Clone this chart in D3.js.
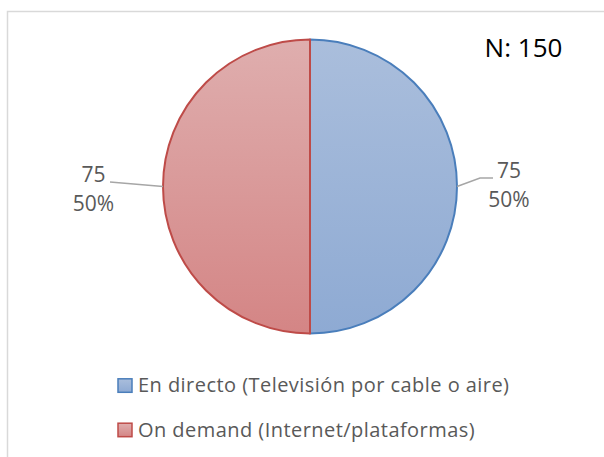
<!DOCTYPE html>
<html>
<head>
<meta charset="utf-8">
<script src="https://cdn.jsdelivr.net/npm/d3@7"></script>
<style>
  body { margin: 0; background: #fff; }
  svg { display: block; font-family: "Open Sans", "Liberation Sans", sans-serif; }
</style>
</head>
<body>
<div id="chart"></div>
<script>
// data
const categories = ["En directo (Televisión por cable o aire)", "On demand (Internet/plataformas)"];
const counts = [75, 75];
const percents = ["50%", "50%"];
const totalLabel = "N: 150";

const width = 604, height = 457;
const cx = 310, cy = 186.5, radius = 147;

const svg = d3.select("#chart").append("svg")
  .attr("width", width)
  .attr("height", height);

// gradients for the slices
const defs = svg.append("defs");
const fills = [
  { id: "gBlue", top: "#aabedc", bottom: "#8eaad3", stroke: "#4a7ebb" },
  { id: "gRed", top: "#dfaeae", bottom: "#d48585", stroke: "#be4b48" }
];
fills.forEach(f => {
  const g = defs.append("linearGradient").attr("id", f.id)
    .attr("x1", 0).attr("y1", 0).attr("x2", 0).attr("y2", 1);
  g.append("stop").attr("offset", "0%").attr("stop-color", f.top);
  g.append("stop").attr("offset", "100%").attr("stop-color", f.bottom);
});

// chart frame
svg.append("rect")
  .attr("x", 7.5).attr("y", 11.5)
  .attr("width", 620).attr("height", 470)
  .attr("fill", "none")
  .attr("stroke", "#d9d9d9")
  .attr("stroke-width", 1.5);

const pie = d3.pie().sort(null).value(d => d);
const arcs = pie(counts);
const arc = d3.arc().innerRadius(0).outerRadius(radius);

const plot = svg.append("g").attr("transform", `translate(${cx},${cy})`);

plot.selectAll("path.slice").data(arcs).enter()
  .append("path")
  .attr("class", "slice")
  .attr("d", arc)
  .attr("fill", (d, i) => `url(#${fills[i].id})`)
  .attr("stroke", (d, i) => fills[i].stroke)
  .attr("stroke-width", 2)
  .attr("stroke-linejoin", "round");

// leader lines + data labels
const labelPos = [
  { line: [[radius, 0], [170, -8.5], [183, -8.5]], x: 199, y1: -8.5, y2: 20.5 },
  { line: [[-radius, 0], [-200, -4.5]], x: -216.5, y1: -4.5, y2: 24.5 }
];
arcs.forEach((d, i) => {
  const mid = (d.startAngle + d.endAngle) / 2;
  const edge = [Math.sin(mid) * radius, -Math.cos(mid) * radius];
  const pts = labelPos[i].line.slice();
  pts[0] = edge;
  plot.append("path")
    .attr("d", d3.line()(pts))
    .attr("fill", "none")
    .attr("stroke", "#a6a6a6")
    .attr("stroke-width", 1.5);
  const t = plot.append("text")
    .attr("text-anchor", "middle")
    .attr("fill", "#595959")
    .style("font-size", "21px");
  t.append("tspan").attr("x", labelPos[i].x).attr("y", labelPos[i].y1).text(counts[i]);
  t.append("tspan").attr("x", labelPos[i].x).attr("y", labelPos[i].y2).text(percents[i]);
});

svg.append("text")
  .attr("x", 523.5).attr("y", 57)
  .attr("text-anchor", "middle")
  .attr("fill", "#000")
  .style("font-size", "26px")
  .text(totalLabel);

// legend
const legend = svg.append("g");
categories.forEach((c, i) => {
  const base = 392.3 + i * 44.4;
  legend.append("rect")
    .attr("x", 118).attr("y", base - 13.5)
    .attr("width", 14).attr("height", 13.5)
    .attr("fill", `url(#${fills[i].id})`)
    .attr("stroke", fills[i].stroke)
    .attr("stroke-width", 1.5);
  legend.append("text")
    .attr("x", 138).attr("y", base)
    .attr("fill", "#595959")
    .style("font-size", "20px")
    .style("letter-spacing", "0.45px")
    .text(c);
});
</script>
</body>
</html>
